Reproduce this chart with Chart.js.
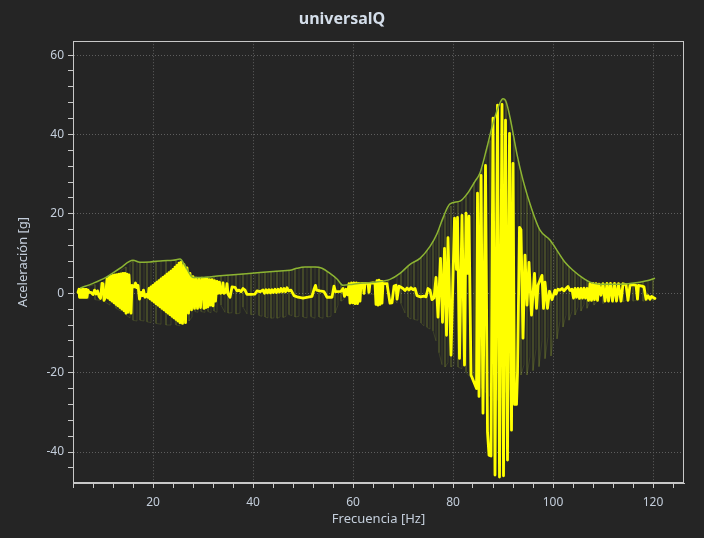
<!DOCTYPE html>
<html>
<head>
<meta charset="utf-8">
<script src="https://cdn.jsdelivr.net/npm/chart.js@4.4.1/dist/chart.umd.min.js"></script>
<style>
  html, body { margin: 0; padding: 0; background: #252525; }
  #wrap { width: 704px; height: 538px; }
</style>
</head>
<body>
<div id="wrap"><canvas id="accChart" width="704" height="538"></canvas></div>
<script>
// tick labels
const xMajor = [20, 40, 60, 80, 100, 120];
const yMajor = [-40, -20, 0, 20, 40, 60];

// upper envelope [Hz, g]
const envelopePoints = [
  [5.4,1.3],[8.0,2.5],[10.6,4.0],[13.4,6.3],[16.0,8.3],[17.4,7.8],[19.4,7.9],[22.0,8.2],[24.0,8.3],
  [25.4,8.6],[26.6,6.5],[28.0,4.0],[29.4,4.0],[33.4,4.4],[37.4,4.8],[41.4,5.2],[45.4,5.6],[47.4,5.8],
  [48.8,6.3],[50.4,6.6],[52.4,6.6],[53.8,6.3],[55.4,5.0],[56.8,3.6],[58.0,2.0],[60.0,2.3],[62.0,2.6],
  [64.4,2.8],[67.4,3.5],[69.4,5.0],[71.4,7.3],[73.4,8.8],[75.4,11.8],[76.8,15.0],[78.0,19.0],[79.4,22.5],
  [81.4,23.2],[82.8,25.0],[84.4,28.2],[85.4,30.3],[86.8,36.8],[88.0,42.8],[89.4,48.0],[90.0,49.0],
  [90.6,48.3],[91.4,44.3],[92.8,35.0],[94.0,28.5],[95.8,21.0],[97.4,15.9],[99.4,13.4],[100.8,10.8],
  [102.4,7.8],[104.0,5.8],[105.8,4.0],[107.4,2.8],[109.4,2.3],[113.4,2.3],[117.4,2.8],[119.0,3.2],[120.4,3.8]
];

// faint response: [Hz, high g, low g]
const faintBands = [
  [6.0,1.4,-1.2],[7.2,1.8,-1.4],[8.4,2.2,-1.6],[9.4,2.6,-1.8],[10.2,3.0,-2.0],[11.4,3.8,-3.0],[12.6,4.8,-3.8],
  [13.6,5.8,-4.5],[14.6,6.6,-5.5],[15.4,7.4,-6.2],[16.0,8.2,-6.8],[16.8,7.9,-7.0],[17.4,7.8,-6.8],[18.2,7.8,-7.0],
  [18.8,7.8,-7.2],[19.6,7.9,-7.4],[20.6,8.0,-7.6],[21.6,8.1,-7.8],[22.6,8.2,-8.0],[23.6,8.3,-8.0],[24.6,8.4,-8.0],
  [25.4,8.5,-8.2],[26.0,7.6,-7.8],[26.6,6.4,-7.4],[27.2,5.0,-7.0],[27.8,4.2,-6.0],[28.4,4.0,-4.6],[29.0,4.0,-4.8],
  [29.6,4.0,-4.6],[30.4,4.1,-4.8],[31.0,4.2,-4.6],[31.6,4.2,-4.9],[32.2,4.3,-4.5],[32.8,4.3,-4.8],[33.6,4.4,-3.0],
  [34.4,4.5,-4.8],[35.0,4.6,-5.0],[35.8,4.6,-4.9],[36.6,4.7,-5.2],[37.4,4.8,-5.0],[38.0,4.9,-3.5],[38.8,5.0,-5.2],
  [39.6,5.0,-5.4],[40.4,5.1,-5.2],[41.2,5.2,-5.6],[41.8,5.3,-5.8],[42.4,5.3,-6.0],[43.0,5.4,-6.2],[43.6,5.5,-6.3],
  [44.2,5.5,-6.2],[44.8,5.6,-6.3],[45.4,5.6,-6.0],[46.0,5.7,-6.1],[46.6,5.8,-5.8],[47.2,5.8,-5.4],[47.8,6.0,-5.6],
  [48.4,6.2,-6.0],[49.2,6.5,-5.8],[50.0,6.6,-6.0],[50.8,6.6,-6.2],[51.6,6.6,-5.9],[52.4,6.6,-6.3],[53.2,6.5,-6.0],
  [54.0,6.2,-6.3],[54.8,5.6,-6.0],[55.6,4.8,-5.8],[56.4,4.0,-5.0],[57.0,3.4,-3.0],[57.6,2.6,-2.0],[58.2,2.0,-1.5],
  [59.4,2.2,-0.5],[61.0,2.6,-0.6],[63.0,2.7,-0.3],[65.0,2.9,-0.2],[67.0,3.3,0.5],[68.8,4.6,-2.5],[69.6,5.3,-2.6],
  [70.4,6.2,-5.0],[71.0,6.9,-6.0],[71.6,7.5,-6.5],[72.2,8.0,-6.6],[73.0,8.6,-6.8],[73.6,9.0,-7.5],[74.2,9.8,-8.2],
  [74.8,10.8,-8.6],[75.4,11.6,-9.0],[76.0,13.2,-9.5],[76.6,14.5,-12.0],[77.2,16.2,-15.0],[77.8,17.8,-18.0],
  [78.4,19.6,-18.6],[79.0,21.0,-17.5],[79.6,22.0,-18.6],[80.2,22.8,-18.0],[81.0,23.0,-18.6],[81.8,23.4,-19.0],
  [82.6,24.6,-20.0],[83.4,26.4,-21.0],[84.2,28.0,-22.0],[85.0,29.5,-23.0],[85.8,31.5,-24.0],[86.6,35.0,-25.0],
  [87.4,38.5,-26.0],[88.2,43.5,-27.0],[89.0,47.0,-27.0],[89.8,48.8,-26.0],[90.6,48.2,-25.0],[91.4,44.3,-24.0],
  [92.2,39.0,-23.0],[93.0,33.5,-21.0],[93.6,30.5,-20.6],[94.2,27.5,-18.0],[94.8,24.5,-20.6],[95.4,22.5,-16.0],
  [96.0,20.4,-19.5],[96.6,18.2,-14.0],[97.2,16.4,-18.5],[97.8,15.2,-12.0],[98.4,14.4,-16.5],[99.0,13.8,-11.0],
  [99.6,13.2,-15.8],[100.2,12.2,-10.0],[100.8,10.8,-11.5],[101.4,9.6,-7.0],[102.0,8.5,-8.5],[102.6,7.6,-5.5],
  [103.2,6.8,-6.8],[103.8,6.0,-4.5],[104.4,5.3,-5.5],[105.0,4.7,-3.5],[105.6,4.2,-4.5],[106.2,3.7,-2.8],
  [106.8,3.3,-3.8],[107.4,2.8,-2.0],[108.2,2.5,-3.0],[109.0,2.4,-1.8],[110.0,2.3,-2.6],[111.0,2.3,-1.6],
  [112.0,2.3,-2.4],[113.0,2.3,-1.8],[114.0,2.4,-2.2],[115.0,2.5,-1.5],[116.0,2.6,-2.0],[117.0,2.8,-1.6],
  [118.0,3.0,-2.0],[119.0,3.2,-1.8],[120.0,3.6,-2.0]
];

// measured response [Hz, g]
const responsePoints = [
  [5.0,0.2],[5.2,1.0],[5.3,-1.0],[5.5,1.0],[5.6,-1.0],[5.8,1.0],[5.9,-1.0],[6.1,1.0],[6.2,-1.0],[6.4,1.0],
  [6.5,-1.0],[6.7,1.0],[6.8,-1.0],[7.0,0.8],[7.2,0.3],[7.6,0.2],[8.0,-0.3],[8.3,0.8],[8.6,-0.2],[8.9,0.6],
  [9.2,-0.8],[9.5,-1.3],[9.8,2.5],[10.0,2.4],[10.2,-1.8],[10.5,-1.0],
  [10.8,3.6],[11.0,-1.2],[11.2,4.0],[11.4,-1.6],[11.6,4.3],[11.8,-2.0],[12.0,4.5],[12.2,-2.4],[12.4,4.6],
  [12.6,-2.8],[12.8,4.7],[13.0,-3.2],[13.2,4.8],[13.4,-3.6],[13.6,4.9],[13.8,-4.0],[14.0,5.0],[14.2,-4.4],
  [14.4,5.0],[14.6,-5.0],[14.8,4.8],[15.0,-4.8],[15.2,4.6],[15.6,-5.0],[15.8,2.0],[16.2,1.6],[16.5,2.6],
  [16.7,1.4],[17.0,2.0],[17.3,-1.5],[17.6,0.2],[17.9,-0.6],[18.1,0.8],[18.4,-1.0],[18.7,-0.3],[19.0,-1.0],
  [19.2,1.2],[19.4,-1.4],[19.6,1.6],[19.8,-1.8],[20.0,2.0],[20.2,-2.2],[20.4,2.4],[20.6,-2.6],[20.8,2.8],
  [21.0,-3.0],[21.2,3.2],[21.4,-3.4],[21.6,3.6],[21.8,-3.8],[22.0,4.0],[22.2,-4.2],[22.4,4.4],[22.6,-4.6],
  [22.8,4.8],[23.0,-5.0],[23.2,5.2],[23.4,-5.4],[23.6,5.6],[23.8,-5.8],[24.0,6.0],[24.2,-6.2],[24.4,6.6],
  [24.6,-6.6],[24.8,7.0],[25.0,-7.0],[25.2,7.6],[25.4,-7.4],[25.6,7.8],[25.9,-7.6],[26.2,7.2],[26.5,-7.4],
  [26.8,6.4],[27.1,-5.0],[27.4,5.0],[27.7,-4.2],[28.0,4.2],[28.3,-3.8],[28.6,3.8],[28.9,-3.8],[29.2,3.6],
  [29.5,-3.6],[29.8,3.8],[30.0,3.6],[30.2,-3.8],[30.4,3.6],[30.6,-3.6],[30.8,3.6],[31.0,-3.4],[31.3,3.4],
  [31.5,-3.0],[31.8,3.4],[32.0,-3.2],[32.3,3.2],[32.5,-2.0],[32.8,3.0],[33.0,0.0],[33.3,2.8],[33.5,0.0],
  [33.8,0.2],[34.0,2.6],[34.2,0.0],[34.6,0.3],[34.8,2.4],[35.0,-0.2],[35.4,-1.0],[35.8,1.6],[36.4,1.5],
  [36.8,0.6],[37.2,0.8],[37.6,0.4],[38.0,1.2],[38.4,0.8],[38.8,-0.3],[39.5,-0.3],[40.4,-0.2],[40.8,0.6],
  [41.4,0.4],[42.0,0.8],[42.3,0.0],[42.6,0.9],[42.9,0.1],[43.2,0.9],[43.5,0.1],[43.8,0.9],[44.1,0.2],
  [44.4,1.0],[44.7,0.2],[45.0,1.0],[45.3,0.3],[45.6,1.2],[45.9,0.4],[46.2,1.2],[46.5,0.4],[46.8,1.4],
  [47.1,0.6],[47.6,0.8],[48.2,-0.6],[49.0,-1.0],[50.0,-1.2],[51.0,-1.0],[51.8,-0.8],[52.2,1.0],[52.5,2.0],
  [52.7,0.8],[53.4,0.6],[54.2,0.4],[54.8,-1.0],[55.8,-1.0],[56.2,1.8],[56.5,0.4],[57.6,0.5],[58.0,1.2],
  [58.3,-0.8],[58.6,1.0],[58.9,-0.4],[59.2,2.4],[59.4,-2.5],[59.7,2.6],[59.9,-2.4],[60.2,2.6],[60.4,-2.6],
  [60.7,2.6],[60.9,-2.6],[61.2,2.5],[61.4,-2.0],[61.6,2.4],[62.0,2.5],[62.2,0.0],[62.4,2.5],[63.0,2.5],
  [63.2,0.2],[63.4,2.5],[64.0,2.6],[64.4,2.5],[64.6,-2.8],[64.8,3.2],[65.0,-3.0],[65.2,3.3],[65.4,-2.8],
  [65.6,3.0],[65.8,-2.5],[66.0,2.5],[66.8,2.4],[67.4,-2.5],[67.8,-2.4],[68.2,1.8],[68.6,2.0],[68.8,-1.5],
  [69.2,1.8],[69.6,1.5],[70.0,1.2],[70.4,0.7],[70.8,1.3],[71.2,0.8],[71.6,1.4],[72.0,0.9],[72.4,1.2],
  [72.8,-0.6],[73.5,-0.9],[74.2,-0.7],[74.6,-0.9],[75.0,1.2],[75.4,0.8],[75.8,-1.6],[76.2,-1.2],[76.6,4.0],
  [77.0,-6.0],[77.5,8.8],[77.9,-7.3],[78.3,11.3],[78.7,-10.6],[79.0,14.0],[79.6,-15.6],[80.3,18.9],
  [80.7,6.0],[80.9,19.1],[81.3,-16.4],[81.8,19.6],[82.3,-18.1],[82.6,20.2],[82.9,5.0],[83.2,19.4],
  [83.6,-20.6],[84.7,-24.0],[84.9,25.2],[85.2,-26.0],[85.6,29.7],[86.0,-30.2],[86.5,32.2],[86.9,-35.0],
  [87.2,-40.8],[87.6,-41.0],[88.0,44.1],[88.4,-45.8],[88.9,47.4],[89.3,-46.3],[89.8,47.6],[90.1,-46.0],
  [90.5,43.6],[90.9,-42.0],[91.3,40.3],[91.7,-34.5],[92.0,32.7],[92.3,-28.0],[92.7,-28.0],[92.9,-20.0],
  [93.3,16.6],[93.6,16.0],[94.0,-11.3],[94.4,9.6],[94.8,-3.0],[95.2,7.8],[95.7,-5.5],[96.3,5.0],[96.7,-3.8],
  [97.0,2.0],[97.8,4.5],[98.1,-3.8],[98.4,2.8],[98.9,-3.8],[99.3,0.5],[99.8,-1.6],[100.4,0.8],[100.6,-0.2],
  [101.0,1.0],[101.4,0.8],[101.8,1.2],[102.2,0.6],[102.6,1.2],[103.0,1.7],[103.4,0.7],[103.8,1.0],[104.1,-1.2],
  [104.4,1.2],[104.7,-1.0],[105.0,1.2],[105.3,-1.3],[105.6,1.2],[105.9,-1.2],[106.2,1.3],[106.5,-1.2],
  [106.8,1.2],[107.1,-1.8],[107.4,2.5],[107.7,-1.8],[108.0,2.5],[108.3,-1.6],[108.6,2.4],[108.9,-1.8],
  [109.2,2.3],[109.6,-0.5],[110.0,2.4],[110.4,-2.0],[110.8,2.5],[111.1,-2.0],[111.5,2.5],[111.9,-2.0],
  [112.3,2.5],[112.7,-2.0],[113.1,2.4],[113.6,-2.0],[114.0,2.4],[114.6,2.2],[115.0,-1.8],[115.4,2.0],
  [116.0,2.2],[116.6,2.0],[116.9,-1.5],[117.1,2.0],[117.8,1.8],[118.2,1.6],[118.6,-1.5],[119.0,-0.6],
  [119.4,-1.5],[119.7,-0.8],[120.4,-1.3]
];

const toXY = pts => pts.map(([x, y]) => ({ x: x, y: y }));

const faintData = [];
faintBands.forEach(([f, hi, lo], i) => {
  if (i % 2 === 0) {
    faintData.push({ x: f, y: hi }, { x: f, y: lo });
  } else {
    faintData.push({ x: f, y: lo }, { x: f, y: hi });
  }
});

const textColor = '#c4cedb';
const gridColor = '#5e5e5e';
const isMajor = (v, list) => list.some(m => Math.abs(m - v) < 1e-6);

const frame = {
  id: 'frame',
  beforeDraw(chart) {
    const c = chart.ctx;
    c.save();
    c.fillStyle = '#252525';
    c.fillRect(0, 0, chart.width, chart.height);
    c.restore();
  },
  afterDraw(chart) {
    const a = chart.chartArea;
    const c = chart.ctx;
    c.save();
    c.strokeStyle = '#c8c8c8';
    c.lineWidth = 1;
    c.strokeRect(Math.round(a.left) + 0.5, Math.round(a.top) + 0.5,
      Math.round(a.right - a.left) - 1, Math.round(a.bottom - a.top) - 1);
    c.restore();
  }
};

const ctx = document.getElementById('accChart').getContext('2d');

new Chart(ctx, {
  type: 'line',
  data: {
    datasets: [
      {
        label: 'envolvente',
        data: toXY(envelopePoints),
        borderColor: 'rgb(140,180,50)',
        borderWidth: 1.5,
        pointRadius: 0,
        cubicInterpolationMode: 'monotone',
        fill: false
      },
      {
        label: 'respuesta',
        data: toXY(responsePoints),
        borderColor: '#ffff00',
        borderWidth: 2.8,
        borderJoinStyle: 'round',
        borderCapStyle: 'round',
        pointRadius: 0,
        tension: 0,
        fill: false
      },
      {
        label: 'señal',
        data: faintData,
        borderColor: 'rgba(150,170,50,0.2)',
        borderWidth: 1,
        borderJoinStyle: 'round',
        pointRadius: 0,
        tension: 0,
        fill: false
      }
    ]
  },
  options: {
    responsive: false,
    animation: false,
    layout: { padding: { left: 0, right: 20, top: 0, bottom: 0 } },
    plugins: {
      legend: { display: false },
      tooltip: { enabled: false },
      title: {
        display: true,
        text: 'universalQ',
        color: '#d4deea',
        font: { family: 'Noto Sans', size: 16, weight: 'bold' },
        padding: { top: 10, bottom: 12 }
      }
    },
    scales: {
      x: {
        type: 'linear',
        min: 4,
        max: 126.2,
        afterFit: s => { s.height = 55; },
        ticks: {
          stepSize: 4,
          includeBounds: false,
          autoSkip: false,
          maxRotation: 0,
          padding: 7,
          color: textColor,
          font: { family: 'Noto Sans', size: 12 },
          callback: v => isMajor(v, xMajor) ? v : ''
        },
        grid: {
          color: c => (c.tick && isMajor(c.tick.value, xMajor)) ? gridColor : 'rgba(0,0,0,0)',
          tickColor: '#c8c8c8',
          tickLength: 5
        },
        border: { color: '#c8c8c8', dash: [1, 2] },
        title: {
          display: true,
          text: 'Frecuencia [Hz]',
          color: textColor,
          font: { family: 'Noto Sans', size: 13 },
          padding: { top: 0, bottom: 11 }
        }
      },
      y: {
        type: 'linear',
        min: -47.8,
        max: 63.5,
        afterFit: s => { s.width = 73; },
        ticks: {
          stepSize: 4,
          includeBounds: false,
          autoSkip: false,
          padding: 4,
          color: textColor,
          font: { family: 'Noto Sans', size: 12 },
          callback: v => isMajor(v, yMajor) ? v : ''
        },
        grid: {
          color: c => (c.tick && isMajor(c.tick.value, yMajor)) ? gridColor : 'rgba(0,0,0,0)',
          tickColor: '#c8c8c8',
          tickLength: 5
        },
        border: { color: '#c8c8c8', dash: [1, 2] },
        title: {
          display: true,
          text: 'Aceleración [g]',
          color: textColor,
          font: { family: 'Noto Sans', size: 13 },
          padding: { top: 15, bottom: 0 }
        }
      }
    }
  },
  plugins: [frame]
});
</script>
</body>
</html>
